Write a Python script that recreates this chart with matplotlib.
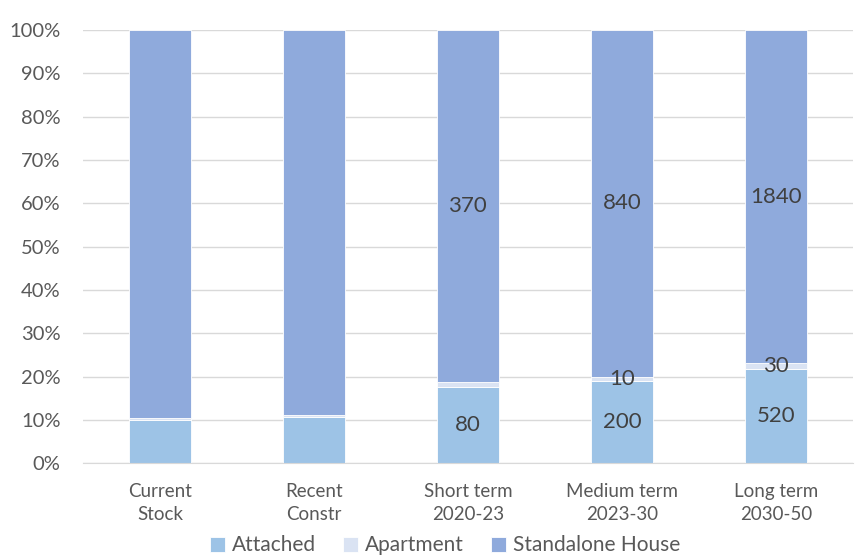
import matplotlib.pyplot as plt
import numpy as np

plt.rcParams['font.family'] = ['Lato', 'DejaVu Sans']

categories = ['Current\nStock', 'Recent\nConstr', 'Short term\n2020-23', 'Medium term\n2023-30', 'Long term\n2030-50']
series = ['Attached', 'Apartment', 'Standalone House']

# first two bars read as percentages, the projections as dwelling counts
attached = [10.0, 10.7, 80, 200, 520]
apartment = [0.4, 0.5, 5, 10, 30]
standalone = [89.6, 88.8, 370, 840, 1840]

# data labels shown on the chart (None = no label)
attached_lbl = [None, None, '80', '200', '520']
apartment_lbl = [None, None, None, '10', '30']
standalone_lbl = [None, None, '370', '840', '1840']

colors = ['#9DC3E6', '#DAE3F3', '#8FAADC']
text_col = '#404040'
tick_col = '#595959'

vals = np.array([attached, apartment, standalone], dtype=float)
shares = vals / vals.sum(axis=0) * 100
labels = [attached_lbl, apartment_lbl, standalone_lbl]

fig = plt.figure(figsize=(8.64, 5.58), dpi=100)
ax = fig.add_axes([0.096, 0.170, 0.891, 0.776])

x = np.arange(len(categories))
bottom = np.zeros(len(categories))
for i, name in enumerate(series):
    ax.bar(x, shares[i], 0.4, bottom=bottom, color=colors[i], label=name,
           edgecolor='white', linewidth=0.6, zorder=2)
    for j in range(len(categories)):
        if labels[i][j] is not None:
            ax.text(x[j], bottom[j] + shares[i][j] / 2, labels[i][j], ha='center', va='center',
                    fontsize=16, color=text_col, zorder=3)
    bottom += shares[i]

ax.set_xlim(-0.5, 4.5)
ax.set_ylim(0, 100)
ax.set_yticks(range(0, 101, 10))
ax.set_yticklabels([f'{v}%' for v in range(0, 101, 10)])
ax.set_xticks(x)
ax.set_xticklabels(categories, linespacing=1.45)
ax.yaxis.grid(True, color='#D9D9D9', linewidth=1, zorder=0)
ax.set_axisbelow(True)
for s in ['top', 'right', 'left']:
    ax.spines[s].set_visible(False)
ax.spines['bottom'].set_color('#D9D9D9')
ax.tick_params(axis='y', length=0, labelsize=14.5, colors=tick_col, pad=16)
ax.tick_params(axis='x', length=0, labelsize=13.5, colors=tick_col, pad=14)

leg = ax.legend(loc='center', bbox_to_anchor=(0.47, -0.19), ncol=3, frameon=False,
                fontsize=15, handlelength=0.75, handleheight=0.75, handletextpad=0.3,
                columnspacing=1.3, borderaxespad=0)
for t in leg.get_texts():
    t.set_color(tick_col)

fig.savefig('out.png', dpi=100)
